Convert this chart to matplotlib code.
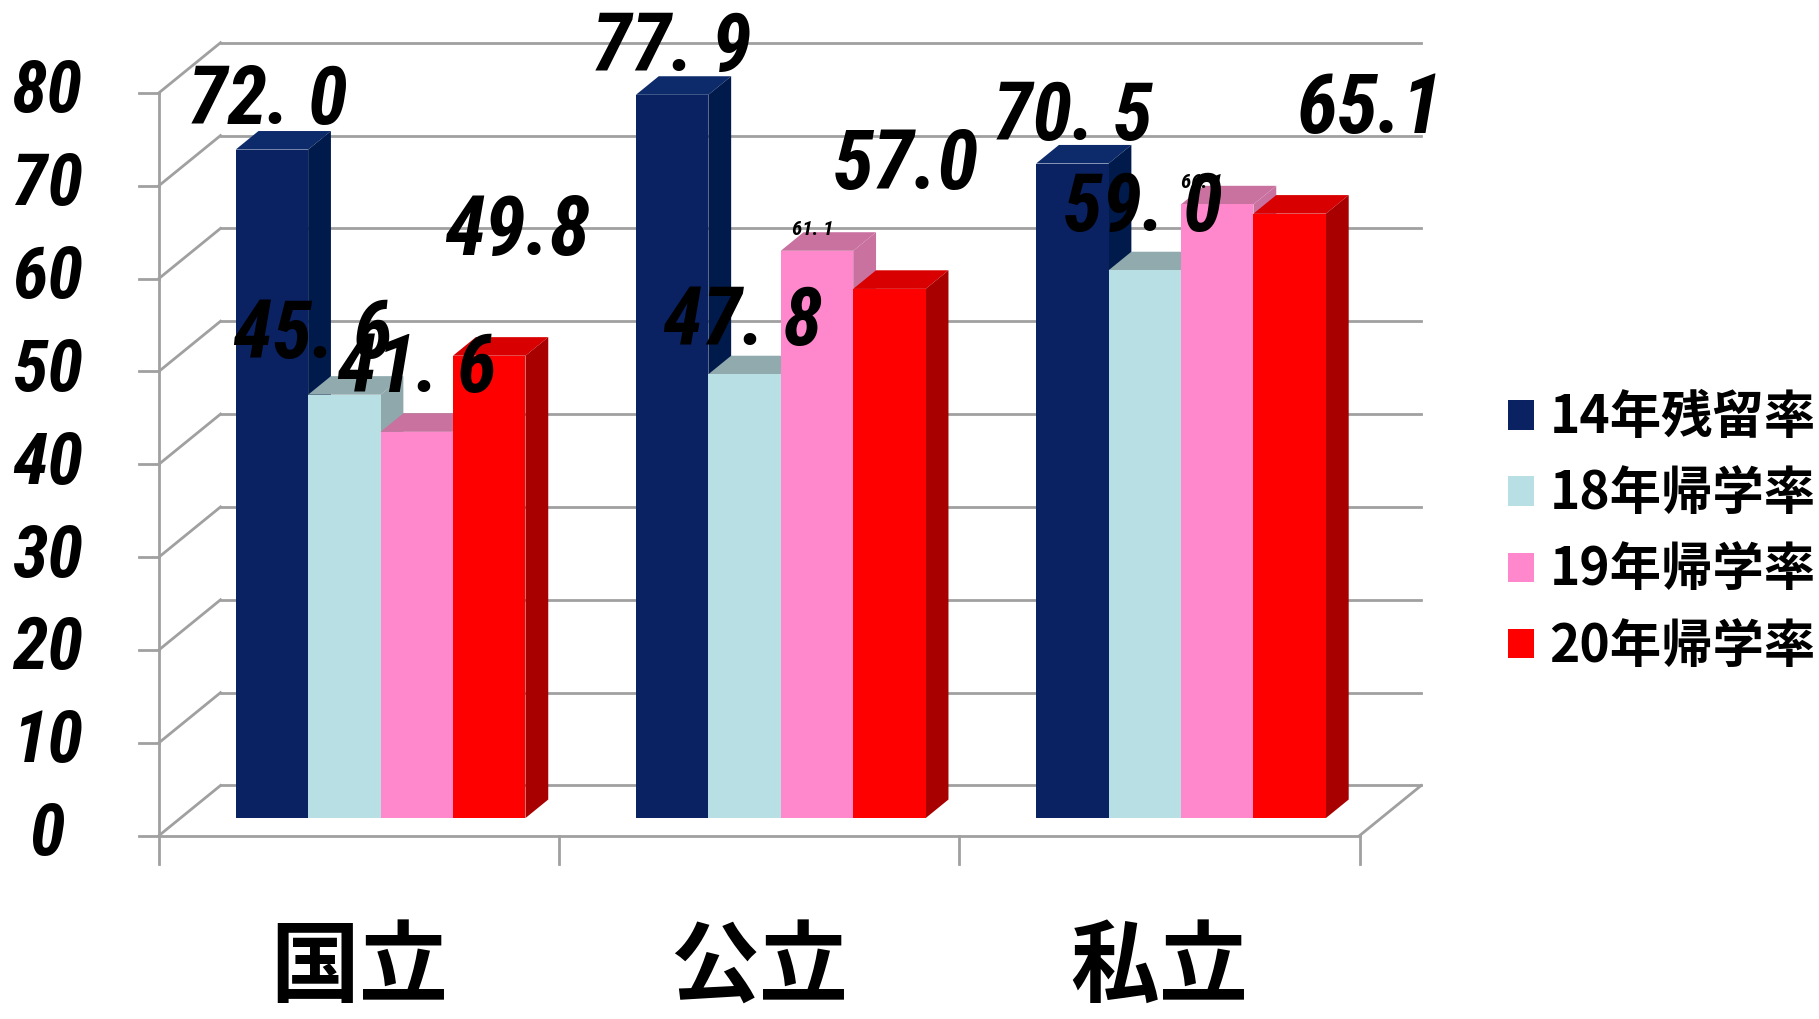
import numpy as np
import matplotlib
matplotlib.use("Agg")
import matplotlib.pyplot as plt
from matplotlib import font_manager
from matplotlib.patches import Polygon, Patch

# data
categories = ['国立', '公立', '私立']
series = ['14年残留率', '18年帰学率', '19年帰学率', '20年帰学率']
values = [
    [72.0, 77.9, 70.5],   # 14年残留率
    [45.6, 47.8, 59.0],   # 18年帰学率
    [41.6, 61.1, 66.1],   # 19年帰学率
    [49.8, 57.0, 65.1],   # 20年帰学率
]
label_text = [
    ['72. 0', '77. 9', '70. 5'],
    ['45. 6', '47. 8', '59. 0'],
    ['41. 6', '61. 1', '66. 1'],
    ['49.8', '57.0', '65.1'],
]
yticks = [0, 10, 20, 30, 40, 50, 60, 70, 80]

# styles
front_col = ['#0a2162', '#b8dfe3', '#ff88cc', '#ff0000']
top_col = ['#0d2a6b', '#91aaae', '#c9719f', '#d80000']
side_col = ['#001a4c', '#8fa8ac', '#c9719f', '#a80000']
# label offsets from bar top (x in category units, y in value units) and size
lab_off = [
    [(-0.01, 7.0), (0.0, 6.9), (0.0, 6.8)],
    [(-0.08, 8.2), (-0.005, 7.4), (-0.005, 8.5)],
    [(0.0, 8.6), (-0.01, 4.2), (-0.04, 4.2)],
    [(0.07, 15.2), (0.04, 15.1), (0.2, 13.0)],
]
lab_size = [
    [58, 58, 58],
    [58, 58, 58],
    [58, 15, 15],
    [60, 60, 60],
]

have = {f.name for f in font_manager.fontManager.ttflist}
narrow = [f for f in ['Liberation Sans Narrow', 'Roboto Condensed', 'DejaVu Sans Condensed',
                      'Noto Sans CJK JP'] if f in have][:1]
num_font = narrow + ['DejaVu Sans']
jp_font = ['Noto Sans CJK JP', 'DejaVu Sans']

DX, DY = 0.154, 5.4      # wall depth (category units, value units)
bw = 0.181               # bar width
d0, bd = 0.35, 0.37      # bar front depth and bar thickness (fraction of wall)
grid_c = '#a0a0a0'

fig = plt.figure(figsize=(18.19, 10.19), dpi=100)
ax = fig.add_axes([0, 0, 1, 1])
ax.set_xlim(-0.897, 3.648)
ax.set_ylim(-19.75, 90)
ax.axis('off')

n = len(categories)
x = np.arange(n)

# back wall gridlines + left wall diagonals
for v in yticks:
    ax.plot([-0.5 + DX, n - 0.5 + DX], [v + DY, v + DY], color=grid_c, lw=2, zorder=1)
    ax.plot([-0.5, -0.5 + DX], [v, v + DY], color=grid_c, lw=2, zorder=1)
    ax.plot([-0.55, -0.5], [v, v], color=grid_c, lw=2, zorder=1)
    ax.text(0.026, v, str(v), transform=ax.get_yaxis_transform(), ha='center', va='center',
            fontsize=52, fontweight='bold', style='italic', family=num_font)
# front axis and floor
ax.plot([-0.5, -0.5], [0, 80], color=grid_c, lw=2, zorder=1)
ax.plot([-0.5, n - 0.5], [0, 0], color=grid_c, lw=2, zorder=1)
ax.plot([n - 0.5, n - 0.5 + DX], [0, DY], color=grid_c, lw=2, zorder=1)
for b in np.arange(n + 1) - 0.5:
    ax.plot([b, b], [0, -3.1], color=grid_c, lw=2, zorder=1)

# bars
ox, oy = d0 * DX, d0 * DY
tx, ty = bd * DX, bd * DY
for j in range(len(series)):
    xs = x + (j - 1.5) * bw + ox
    ax.bar(xs, values[j], width=bw, bottom=oy, color=front_col[j], zorder=3 + j)
    for i in range(n):
        v = values[j][i] + oy
        xl, xr = xs[i] - bw / 2, xs[i] + bw / 2
        top = Polygon([(xl, v), (xr, v), (xr + tx, v + ty), (xl + tx, v + ty)],
                      closed=True, color=top_col[j], zorder=2.5 + j, lw=0)
        side = Polygon([(xr, oy), (xr + tx, oy + ty), (xr + tx, v + ty), (xr, v)],
                       closed=True, color=side_col[j], zorder=2.5 + j, lw=0)
        ax.add_patch(top)
        ax.add_patch(side)

# value labels
for j in range(len(series)):
    xs = x + (j - 1.5) * bw + ox
    for i in range(n):
        dx, dy = lab_off[j][i]
        ax.text(xs[i] + dx, values[j][i] + dy, label_text[j][i], ha='center', va='center',
                fontsize=lab_size[j][i], fontweight='bold', style='italic',
                family=num_font, zorder=20)

# category labels
for i, c in enumerate(categories):
    ax.text(x[i], -14.4, c, ha='center', va='center', fontsize=64,
            fontweight='bold', family=jp_font)

# legend
handles = [Patch(facecolor=front_col[j], label=series[j]) for j in range(len(series))]
ax.legend(handles=handles, loc='center left', bbox_to_anchor=(0.818, 0.478),
          frameon=False, prop={'family': jp_font, 'weight': 'bold', 'size': 37},
          handlelength=0.5, handleheight=0.5, handletextpad=0.3, labelspacing=0.45,
          borderaxespad=0)

fig.savefig('out.png', dpi=100)
